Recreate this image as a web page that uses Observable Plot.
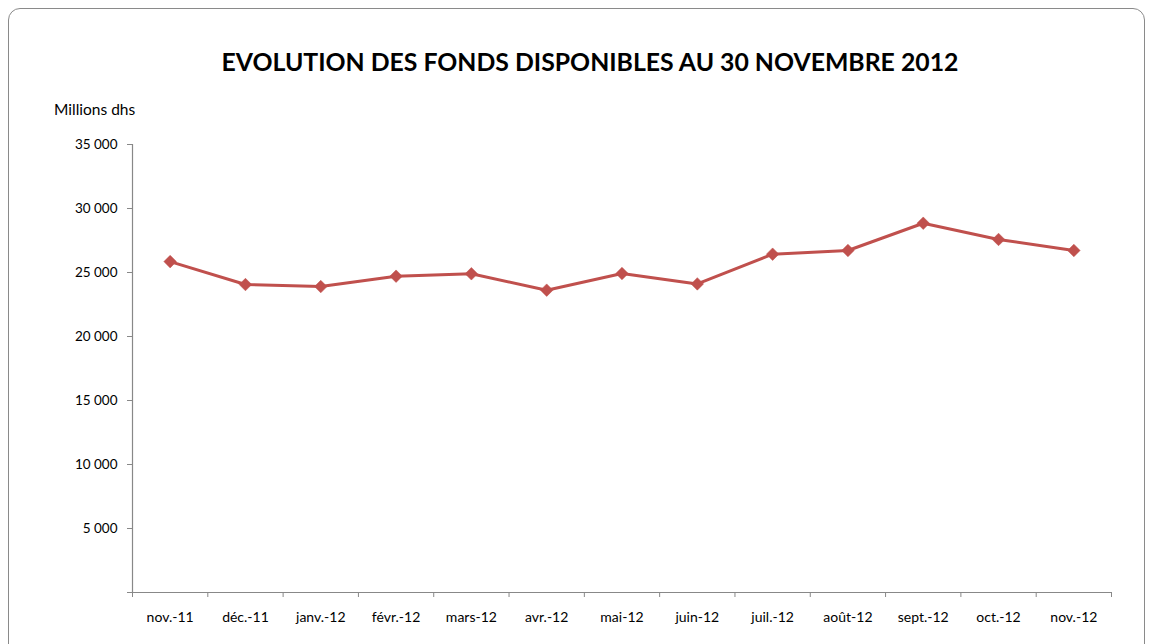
<!DOCTYPE html>
<html><head><meta charset="utf-8">
<script src="https://cdn.jsdelivr.net/npm/d3@7"></script>
<script src="https://cdn.jsdelivr.net/npm/@observablehq/plot@0.6"></script>
<style>
html,body{margin:0;padding:0;background:#fff;}
#wrap{position:relative;width:1149px;height:644px;overflow:hidden;font-family:Lato,"Open Sans",sans-serif;}
#frame{position:absolute;left:8px;top:8px;width:1137px;height:660px;border:1.5px solid #8a8a8a;border-radius:12px;box-sizing:border-box;}
#title{position:absolute;left:0;width:1180px;top:47px;text-align:center;font-weight:bold;font-size:24.8px;color:#000;}
#unit{position:absolute;left:54px;top:100px;font-size:15.5px;color:#000;}
#chart{position:absolute;left:0;top:0;}
</style></head>
<body><div id="wrap"><div id="frame"></div>
<div id="title">EVOLUTION DES FONDS DISPONIBLES AU 30 NOVEMBRE 2012</div>
<div id="unit">Millions dhs</div>
<div id="chart"></div></div>
<script>
const months = ["nov.-11","déc.-11","janv.-12","févr.-12","mars-12","avr.-12","mai-12","juin-12","juil.-12","août-12","sept.-12","oct.-12","nov.-12"];
const fonds = [25850, 24060, 23900, 24710, 24900, 23620, 24920, 24110, 26430, 26720, 28850, 27580, 26720];
const yTicks = [0, 5000, 10000, 15000, 20000, 25000, 30000, 35000];

const data = months.map((m, i) => ({m, i: i + 0.5, v: fonds[i]}));
const fmt = d => d === 0 ? "" : d3.format(",")(d).replace(/,/g, " ");
const color = "#C0504D";

const chart = Plot.plot({
  width: 1149, height: 644,
  marginLeft: 132, marginRight: 38, marginTop: 144, marginBottom: 52,
  style: {fontFamily: "Lato, 'Open Sans', sans-serif", fontSize: "13.5px", color: "#000", background: "transparent"},
  x: {domain: [0, months.length]},
  y: {domain: [0, 35000]},
  marks: [
    Plot.ruleX([0], {stroke: "#888", strokeWidth: 1.2}),
    Plot.ruleY([0], {stroke: "#888", strokeWidth: 1.2}),
    Plot.axisY({ticks: yTicks, tickFormat: fmt, tickSize: 5, tickPadding: 10, stroke: "#888", label: null}),
    Plot.axisX({ticks: d3.range(0, months.length + 1), tickFormat: () => "", tickSize: 5, stroke: "#888", label: null}),
    Plot.axisX({ticks: data.map(d => d.i), tickFormat: d => months[Math.round(d - 0.5)], tickSize: 0, tickPadding: 20, fontSize: 14, label: null}),
    Plot.line(data, {x: "i", y: "v", stroke: color, strokeWidth: 3}),
    Plot.dot(data, {x: "i", y: "v", symbol: "square", rotate: 45, r: 5, fill: color, stroke: color, strokeWidth: 0.5})
  ]
});
document.getElementById("chart").appendChild(chart);
</script></body></html>
